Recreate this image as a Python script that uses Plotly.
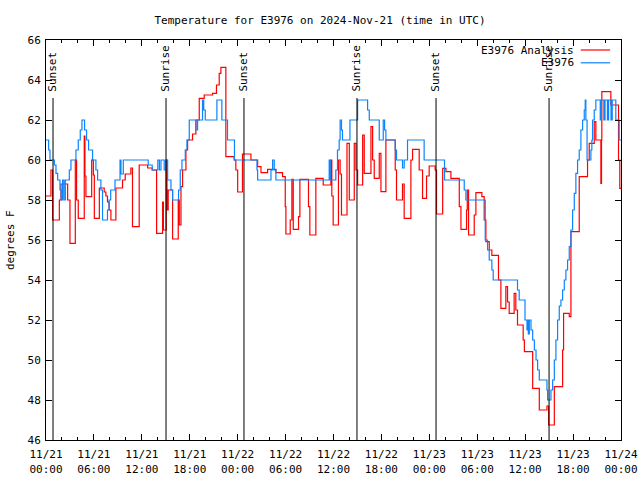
import pandas as pd
import plotly.graph_objects as go

# Hours since 2024-11-21 00:00 UTC (step data)
analysis_hours = [0.0, 0.62, 0.83, 1.67, 1.875, 2.71, 3.0, 3.67, 3.83, 4.04, 4.79, 4.875, 5.0, 5.72, 5.93,
                  6.05, 6.68, 7.29, 7.5, 7.7, 7.9, 8.125, 8.75, 9.58, 9.92, 10.625, 10.83, 11.67, 12.73,
                  13.3, 13.85, 14.6, 14.7, 15.05, 15.15, 15.3, 15.85, 16.56, 16.69, 16.9, 17.1, 17.52,
                  17.73, 18.35, 18.77, 19.19, 19.81, 20.85, 21.35, 21.69, 21.9, 22.52, 23.56, 23.77, 24.0,
                  24.6, 25.66, 26.5, 26.92, 27.75, 28.79, 29.62, 29.96, 30.04, 30.58, 30.79, 30.96, 31.62,
                  31.79, 32.87, 33.04, 33.79, 34.71, 35.67, 35.79, 35.96, 36.62, 36.83, 37.0, 37.69, 37.98,
                  38.6, 38.81, 39.02, 39.65, 39.85, 40.69, 40.9, 41.1, 41.73, 41.94, 42.56, 43.73, 43.89,
                  44.64, 44.85, 45.69, 45.9, 46.73, 47.15, 47.65, 47.98, 48.73, 48.9, 49.67, 50.08, 50.7,
                  51.75, 51.96, 52.66, 52.75, 52.91, 53.62, 53.83, 54.58, 54.87, 55.08, 55.5, 55.83, 56.66,
                  56.96, 57.58, 57.79, 58.0, 58.62, 58.83, 59.04, 59.75, 59.9, 60.94, 61.77, 62.73, 62.94,
                  63.65, 64.69, 64.81, 65.52, 65.73, 66.77, 67.81, 68.02, 68.65, 68.85, 69.48, 69.56, 69.6,
                  70.73, 71.69, 71.85, 72.0]
analysis_temp = [58.2, 59.5, 57.0, 58.0, 58.8, 58.0, 55.83, 60.0, 58.0, 57.08, 61.2, 59.2, 58.17, 60.0, 59.25,
                 57.08, 58.6, 58.4, 58.2, 57.9, 57.5, 57.0, 58.6, 59.0, 59.3, 59.6, 56.67, 59.75, 59.6,
                 59.5, 56.33, 57.9, 56.5, 60.0, 57.5, 58.5, 56.05, 58.0, 56.75, 58.67, 59.5, 60.5,
                 61.0, 61.3, 62.0, 63.08, 63.25, 63.33, 63.75, 64.33, 64.63, 60.17, 60.0, 59.5, 58.4,
                 60.3, 60.0, 59.67, 59.37, 59.53, 59.37, 59.17, 57.67, 56.3, 57.0, 59.03, 56.53, 57.17,
                 59.03, 57.67, 56.25, 59.08, 58.75, 60.0, 58.2, 56.75, 60.0, 59.3, 57.25, 60.83, 58.0,
                 60.83, 59.5, 58.75, 61.25, 59.33, 61.67, 60.0, 59.08, 60.33, 58.42, 61.0, 59.5, 58.0,
                 58.8, 57.08, 60.0, 60.53, 59.5, 58.08, 59.2, 59.7, 59.5, 57.3, 59.58, 59.42, 59.08,
                 57.67, 56.53, 57.5, 58.5, 56.25, 57.25, 58.37, 58.17, 57.0, 55.92, 55.5, 55.23, 54.0,
                 52.58, 53.67, 52.9, 52.33, 53.33, 52.5, 51.75, 51.0, 50.42, 48.58, 47.5, 47.7, 46.75,
                 48.67, 50.5, 52.33, 52.17, 56.42, 59.17, 60.0, 60.83, 61.92, 61.0, 58.83, 61.0, 63.42,
                 62.75, 60.0, 58.58, 58.58]

station_hours = [0.0, 0.33, 0.5, 1.04, 1.25, 1.46, 1.75, 1.9, 2.08, 2.25, 2.42, 2.58, 2.92, 3.125, 3.75,
                 4.04, 4.29, 4.5, 4.83, 5.08, 5.33, 5.83, 6.25, 6.46, 6.875, 7.08, 7.7, 7.9, 8.1, 8.64,
                 9.27, 9.39, 9.68, 12.8, 13.3, 14.0, 14.2, 14.4, 14.8, 15.02, 15.23, 15.65, 15.85, 16.6,
                 16.81, 17.02, 17.44, 17.65, 17.94, 18.77, 18.98, 19.6, 19.75, 19.94, 21.4, 22.02, 22.73,
                 23.6, 26.42, 26.5, 28.17, 28.375, 28.58, 28.79, 35.46, 35.6, 36.29, 36.5, 36.71, 36.83,
                 37.0, 37.12, 38.06, 39.02, 40.27, 40.48, 41.73, 42.23, 42.4, 42.56, 43.73, 43.89, 44.64,
                 44.85, 45.27, 47.35, 49.9, 52.37, 52.58, 55.0, 55.29, 55.5, 55.83, 56.0, 59.04, 59.25,
                 59.98, 60.23, 60.31, 60.4, 60.52, 60.73, 60.94, 61.15, 61.36, 61.56, 61.77, 62.73, 62.81,
                 63.23, 63.44, 63.65, 63.85, 64.06, 64.27, 64.48, 64.69, 64.9, 65.1, 65.31, 65.52, 65.73,
                 65.94, 66.15, 66.35, 66.56, 66.77, 66.98, 67.19, 67.4, 67.52, 67.6, 67.75, 68.23, 68.35,
                 68.44, 68.65, 68.85, 69.4, 69.55, 69.85, 70.0, 70.3, 70.45, 70.75, 70.9, 71.35, 71.77,
                 72.0]
station_temp = [61.0, 60.5, 60.0, 59.75, 59.33, 59.0, 58.5, 58.0, 59.0, 58.0, 59.0, 59.0, 59.5, 60.0, 60.5,
                61.0, 61.5, 62.0, 61.5, 61.0, 60.5, 60.0, 59.5, 59.0, 58.5, 57.0, 57.5, 58.0, 58.5, 59.0,
                60.0, 59.3, 60.0, 59.75, 59.5, 60.0, 59.5, 60.0, 59.5, 60.0, 59.0, 58.5, 58.0, 58.5,
                59.5, 60.0, 60.5, 61.0, 62.0, 61.5, 62.0, 63.0, 62.5, 62.0, 63.0, 62.0, 61.0,
                60.0, 59.5, 59.0, 59.5, 60.0, 59.5, 59.0, 60.0, 59.0, 59.5, 60.5, 61.0, 62.0,
                61.5, 61.0, 62.0, 63.0, 62.5, 62.0, 61.0, 62.0, 61.5, 61.0, 60.5, 60.0, 59.6,
                60.0, 61.0, 60.0, 59.0, 58.5, 58.0, 56.0, 55.5, 55.0, 54.5, 54.0, 53.5, 53.0,
                52.0, 51.5, 52.0, 51.3, 52.0, 51.5, 51.0, 50.5, 50.0, 49.5, 49.0, 48.5, 48.0,
                48.5, 49.0, 50.0, 51.0, 52.0, 52.7, 53.0, 53.5, 54.0, 54.5, 55.0, 55.67, 56.5,
                57.5, 58.33, 59.33, 60.0, 60.5, 61.5, 62.0, 62.5, 63.0, 62.0, 60.0, 60.5, 61.0,
                62.0, 62.5, 63.0, 62.0, 63.0, 62.0, 63.0, 62.0, 63.0, 62.0, 63.0, 62.0, 61.0,
                61.0]

sun_hours = [0.88, 15.03, 24.79, 38.94, 48.84, 62.99]
sun_labels = ["Sunset", "Sunrise", "Sunset", "Sunrise", "Sunset", "Sunrise"]

series_names = ["E3976 Analysis", "E3976"]
series_colors = ["#ff0000", "#0a84ff"]

base = pd.Timestamp("2024-11-21 00:00")
def to_time(hours):
    return [base + pd.Timedelta(hours=h) for h in hours]

FONT = "DejaVu Sans Mono"

fig = go.Figure()
fig.add_trace(go.Scatter(x=to_time(analysis_hours), y=analysis_temp, mode="lines",
                         line=dict(color=series_colors[0], width=1.2, shape="hv"),
                         name=series_names[0], showlegend=False))
fig.add_trace(go.Scatter(x=to_time(station_hours), y=station_temp, mode="lines",
                         line=dict(color=series_colors[1], width=1.2, shape="hv"),
                         name=series_names[1], showlegend=False))

shapes = []
annotations = []
for h, lab in zip(sun_hours, sun_labels):
    t = base + pd.Timedelta(hours=h)
    shapes.append(dict(type="line", xref="x", yref="paper", x0=t, x1=t, y0=0, y1=0.855,
                       line=dict(color="black", width=1)))
    annotations.append(dict(x=t, y=0.866, xref="x", yref="paper", text=lab, textangle=-90,
                            showarrow=False, xanchor="center", yanchor="bottom",
                            font=dict(family=FONT, size=11, color="black")))

# Legend (gnuplot style: text then line sample)
leg_y = [0.975, 0.943]
for name, col, yy in zip(series_names, series_colors, leg_y):
    annotations.append(dict(x=0.922, y=yy, xref="paper", yref="paper", text=name, showarrow=False,
                            xanchor="right", yanchor="middle",
                            font=dict(family=FONT, size=11, color="black")))
    shapes.append(dict(type="line", xref="paper", yref="paper", x0=0.930, x1=0.981, y0=yy, y1=yy,
                       line=dict(color=col, width=1.2)))

annotations.append(dict(x=-0.0626, y=0.5, xref="paper", yref="paper", text="degrees F", textangle=-90,
                        showarrow=False, xanchor="center", yanchor="middle",
                        font=dict(family=FONT, size=11, color="black")))

fig.update_layout(
    width=640, height=480,
    margin=dict(l=46, r=19, t=40, b=40, autoexpand=False),
    paper_bgcolor="white", plot_bgcolor="white",
    font=dict(family=FONT, size=11, color="black"),
    title=dict(text="Temperature for E3976 on 2024-Nov-21 (time in UTC)", x=0.5,
               xanchor="center", y=1 - 20 / 480, yanchor="middle", yref="container", automargin=False,
               font=dict(family=FONT, size=11, color="black")),
    shapes=shapes, annotations=annotations, showlegend=False,
)
fig.update_xaxes(type="date", range=[base, base + pd.Timedelta(hours=72)], automargin=False,
                 tick0=base, dtick=6 * 3600 * 1000, tickformat="%m/%d<br>%H:%M", ticklabelstandoff=4,
                 ticks="inside", ticklen=6, tickcolor="black", mirror="allticks",
                 showline=True, linecolor="black", linewidth=1, showgrid=False, zeroline=False,
                 minor=dict(dtick=2 * 3600 * 1000, ticks="inside", ticklen=3, tickcolor="black", showgrid=False))
fig.update_yaxes(range=[46, 66], dtick=2, tick0=46, ticks="inside", ticklen=6, tickcolor="black",
                 mirror="allticks", showline=True, linecolor="black", linewidth=1, showgrid=False,
                 zeroline=False, automargin=False, ticklabelstandoff=2)

# Remove the default 8px body margin so the 640x480 figure fills the window exactly.
fig.write_html("out.html", config={"displayModeBar": False},
               post_script="document.body.style.margin='0px';")
